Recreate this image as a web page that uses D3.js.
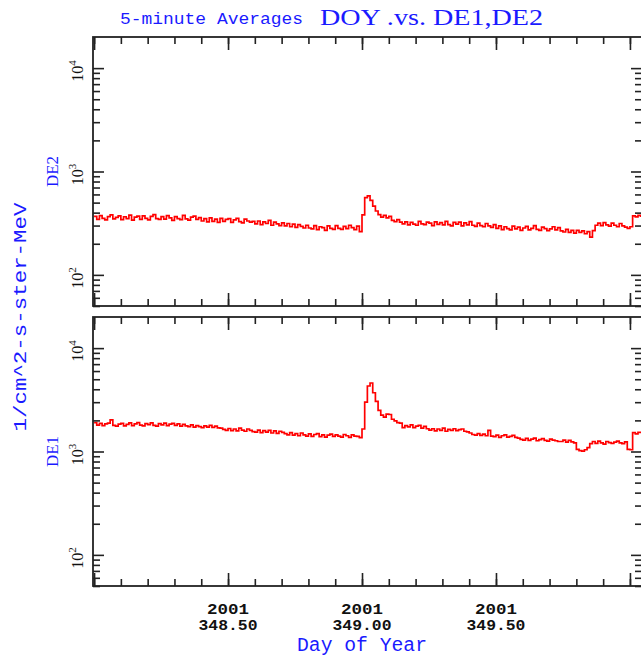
<!DOCTYPE html>
<html><head><meta charset="utf-8">
<script src="https://cdn.jsdelivr.net/npm/d3@7"></script>
<style>body{margin:0;background:#fff;} svg{display:block;background:#fff;}</style>
</head><body>
<svg id="c" width="641" height="657"></svg>
<script>
// ---- data (5-minute averages) ----
const doyStart = 348.00;
const doyStep = 0.01;
const de2 = [
368,345,375,352,340,366,380,348,360,372,
342,365,350,378,338,362,370,344,372,352,
340,368,382,350,344,366,346,374,356,336,
366,350,342,376,348,338,362,370,344,358,
332,350,326,356,330,346,322,352,330,344,
350,322,340,352,328,318,346,332,324,330,
312,332,306,326,314,336,302,324,312,300,
318,298,314,292,310,288,306,294,284,302,
284,278,300,274,292,286,270,298,282,276,
300,282,276,294,280,302,286,274,296,262,
380,560,580,525,462,415,382,362,376,356,
368,336,328,342,324,
312,326,304,322,310,302,330,312,306,324,
316,300,326,308,320,304,330,306,298,322,
310,324,298,318,304,328,302,294,316,300,
292,314,298,288,306,
282,298,274,292,280,272,296,278,290,270,
284,294,272,282,300,276,270,290,280,268,
278,292,272,286,266,260,276,258,270,254,
270,258,266,250,262,232,268,302,316,300,
320,304,296,316,302,292,314,298,290,282,
292,372,364,376,362
];
const de1 = [
1900,1800,1870,1780,1850,1880,2020,1790,1760,1840,
1870,1770,1830,1890,1780,1850,1900,1800,1770,1860,
1820,1890,1790,1760,1860,1810,1880,1780,1840,1870,
1790,1850,1760,1830,1770,1740,1810,1720,1780,1740,
1700,1770,1720,1790,1710,1760,1690,1680,1640,1600,
1670,1590,1650,1580,1680,1610,1570,1650,1600,1560,
1540,1610,1520,1590,1540,1600,1510,1580,1500,1570,
1530,1490,1450,1520,1440,1490,1420,1510,1450,1410,
1480,1400,1460,1490,1390,1450,1380,1440,1470,1400,
1450,1410,1380,1460,1420,1370,1450,1410,1400,1360,
1650,3000,4300,4600,3700,3050,2500,2250,2150,2300,
2280,2050,1980,1900,1880,
1700,1780,1730,1810,1700,1760,1790,1680,1750,1660,
1610,1660,1580,1650,1600,1680,1570,1640,1600,1660,
1590,1630,1650,1570,1550,1510,
1460,1440,1490,1430,1470,1420,
1600,
1410,1390,1440,1370,1420,1450,1380,1400,1430,1370,1350,
1310,1290,1340,1280,1320,1350,1270,1300,1330,1280,1260,1320,1290,1270,1250,
1250,1290,1230,1280,1240,1210,
1050,1020,1010,1040,1090,
1190,1250,1200,1260,1210,1180,1250,1220,1200,1230,1260,1210,1190,1240,
1050,1040,
1520,1480,1530,1500
];
const xLabelDays = [348.5, 349.0, 349.5];
const xLabelYear = "2001";
const yDecades = [100, 1000, 10000];
const yExponents = ["2", "3", "4"];
const titleSmall = "5-minute Averages";
const titleLarge = "DOY .vs. DE1,DE2";
const yTitle = "1/cm^2-s-ster-MeV";
const xTitle = "Day of Year";
const panelNames = ["DE2", "DE1"];

// ---- layout ----
const svg = d3.select("#c");
const blue = "#1a1aff";
const x = d3.scaleLinear().domain([347.996, 350.045]).range([93, 642]);
const panels = [
  {top: 37, bottom: 306, data: de2, name: panelNames[0]},
  {top: 317, bottom: 586, data: de1, name: panelNames[1]}
];
const xMinor = d3.range(348, 350.0001, 0.1).map(v => +v.toFixed(2));
const xMajor = [348, 348.5, 349, 349.5, 350];
const yMinor = [];
[10, 100, 1000].forEach(d => { for (let k = 2; k <= 9; k++) { const v = d * k; if (v >= 50 && v < 20000) yMinor.push(v); } });

panels.forEach((p, pi) => {
  const y = d3.scaleLog().domain([50, 20000]).range([p.bottom, p.top]);
  const g = svg.append("g");
  const clipId = "clip" + pi;
  svg.append("clipPath").attr("id", clipId).append("rect")
    .attr("x", x.range()[0]).attr("y", p.top)
    .attr("width", x.range()[1] - x.range()[0]).attr("height", p.bottom - p.top);

  // data line
  const line = d3.line()
    .x((d, i) => x(doyStart + i * doyStep))
    .y(d => y(d))
    .curve(d3.curveStepAfter);
  g.append("path").datum(p.data)
    .attr("clip-path", `url(#${clipId})`)
    .attr("d", line)
    .attr("fill", "none").attr("stroke", "#ff0000").attr("stroke-width", 1.7);

  // axes (ticks inward on all four sides)
  const styleAxis = a => { a.select(".domain").remove(); a.selectAll("line").attr("stroke", "#222").attr("stroke-width", 1.6); };
  const addAxis = (axis, tx, ty) => g.append("g").attr("transform", `translate(${tx},${ty})`).call(axis).call(styleAxis);
  addAxis(d3.axisBottom(x).tickValues(xMinor).tickSize(-7).tickFormat(""), 0, p.bottom);
  addAxis(d3.axisBottom(x).tickValues(xMajor).tickSize(-13).tickFormat(""), 0, p.bottom);
  addAxis(d3.axisTop(x).tickValues(xMinor).tickSize(-7).tickFormat(""), 0, p.top);
  addAxis(d3.axisTop(x).tickValues(xMajor).tickSize(-13).tickFormat(""), 0, p.top);
  addAxis(d3.axisLeft(y).tickValues(yMinor).tickSize(-7).tickFormat(""), x.range()[0], 0);
  addAxis(d3.axisLeft(y).tickValues(yDecades).tickSize(-11).tickFormat(""), x.range()[0], 0);
  addAxis(d3.axisRight(y).tickValues(yMinor).tickSize(-7).tickFormat(""), x.range()[1], 0);
  addAxis(d3.axisRight(y).tickValues(yDecades).tickSize(-11).tickFormat(""), x.range()[1], 0);

  // frame
  g.append("rect").attr("x", x.range()[0]).attr("y", p.top)
    .attr("width", x.range()[1] - x.range()[0]).attr("height", p.bottom - p.top)
    .attr("fill", "none").attr("stroke", "#222").attr("stroke-width", 1.8);

  // y tick labels 10^n (rotated)
  yDecades.forEach((v, k) => {
    const t = g.append("text")
      .attr("transform", `translate(83,${y(v)}) rotate(-90)`)
      .attr("x", -3).attr("text-anchor", "middle")
      .attr("font-family", "Liberation Serif, serif").attr("font-size", 16).attr("fill", "#111");
    t.append("tspan").text("10");
    t.append("tspan").attr("dy", -7).attr("font-size", 11).text(yExponents[k]);
  });

  // panel name
  g.append("text")
    .attr("transform", `translate(58,${y(1000)}) rotate(-90)`)
    .attr("text-anchor", "middle")
    .attr("font-family", "Liberation Serif, serif").attr("font-size", 17)
    .attr("fill", blue).text(p.name);
});

// x tick labels (two lines)
xLabelDays.forEach(d => {
  svg.append("text").attr("x", x(d)).attr("y", 614).attr("text-anchor", "middle")
    .attr("font-family", "Liberation Mono, monospace").attr("font-size", 14).attr("font-weight", "bold").attr("fill", "#111")
    .attr("textLength", 42).attr("lengthAdjust", "spacingAndGlyphs").text(xLabelYear);
  svg.append("text").attr("x", x(d)).attr("y", 630).attr("text-anchor", "middle")
    .attr("font-family", "Liberation Mono, monospace").attr("font-size", 14).attr("font-weight", "bold").attr("fill", "#111")
    .attr("textLength", 59).attr("lengthAdjust", "spacingAndGlyphs").text(d.toFixed(2));
});

// axis titles
svg.append("text").attr("x", 362).attr("y", 651).attr("text-anchor", "middle")
  .attr("font-family", "Liberation Mono, monospace").attr("font-size", 20).attr("fill", blue)
  .attr("textLength", 130).attr("lengthAdjust", "spacingAndGlyphs").text(xTitle);
svg.append("text").attr("transform", "translate(26,317) rotate(-90)").attr("text-anchor", "middle")
  .attr("font-family", "Liberation Mono, monospace").attr("font-size", 19).attr("fill", blue)
  .attr("textLength", 229).attr("lengthAdjust", "spacingAndGlyphs").text(yTitle);

// title
svg.append("text").attr("x", 120).attr("y", 24)
  .attr("font-family", "Liberation Mono, monospace").attr("font-size", 16).attr("fill", blue)
  .attr("textLength", 183).attr("lengthAdjust", "spacingAndGlyphs").text(titleSmall);
svg.append("text").attr("x", 320).attr("y", 25)
  .attr("font-family", "Liberation Serif, serif").attr("font-size", 24).attr("fill", blue)
  .attr("textLength", 223).attr("lengthAdjust", "spacingAndGlyphs").text(titleLarge);
</script>
</body></html>
